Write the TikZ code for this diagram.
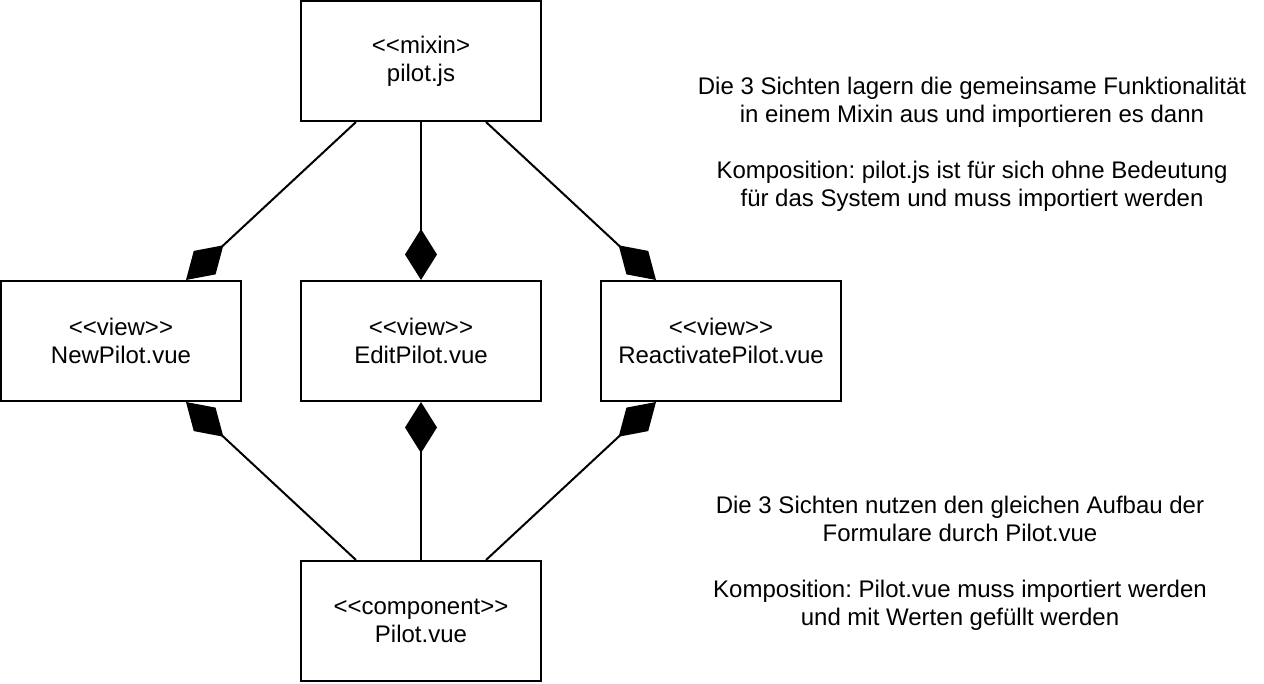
\documentclass[tikz,border=0pt]{standalone}
\usepackage{fontspec}
\setmainfont{Liberation Sans}
\usetikzlibrary{arrows.meta}
\newcommand{\stereo}[1]{\mbox{<}\mbox{<}#1\mbox{>}\mbox{>}}
\frenchspacing

\begin{document}
\begin{tikzpicture}[x=1pt,y=-1pt,
    cls/.style={draw,line width=2pt,minimum width=240pt,minimum height=120pt,align=center,font=\fontsize{24}{28}\selectfont},
    comp/.style={line width=2pt,-{Diamond[length=51pt,width=32pt]}},
    note/.style={align=center,font=\fontsize{24}{28}\selectfont}]
      \useasboundingbox (0,0) rectangle (1264,684);
      \node[cls] (Mixin) at (421,61) {\mbox{<}\mbox{<}mixin\mbox{>}\\pilot.js};
      \node[cls] (NewPilot) at (121,341) {\stereo{view}\\NewPilot.vue};
      \node[cls] (EditPilot) at (421,341) {\stereo{view}\\EditPilot.vue};
      \node[cls] (ReactPilot) at (721,341) {\stereo{view}\\ReactivatePilot.vue};
      \node[cls] (PilotVue) at (421,621) {\stereo{component}\\Pilot.vue};
      \node[note] (MixinNote) at (972,144) {Die 3 Sichten lagern die gemeinsame Funktionalität\\in einem Mixin aus und importieren es dann\\[28pt]Komposition: pilot.js ist für sich ohne Bedeutung\\für das System und muss importiert werden};
      \node[note] (VueNote) at (960,563) {Die 3 Sichten nutzen den gleichen Aufbau der\\Formulare durch Pilot.vue\\[28pt]Komposition: Pilot.vue muss importiert werden\\und mit Werten gefüllt werden};
      \draw[comp] ([xshift=-65pt]Mixin.south) -- ([xshift=65pt]NewPilot.north);
      \draw[comp] (Mixin.south) -- (EditPilot.north);
      \draw[comp] ([xshift=65pt]Mixin.south) -- ([xshift=-65pt]ReactPilot.north);
      \draw[comp] ([xshift=-65pt]PilotVue.north) -- ([xshift=65pt]NewPilot.south);
      \draw[comp] (PilotVue.north) -- (EditPilot.south);
      \draw[comp] ([xshift=65pt]PilotVue.north) -- ([xshift=-65pt]ReactPilot.south);
    \end{tikzpicture}
\end{document}
